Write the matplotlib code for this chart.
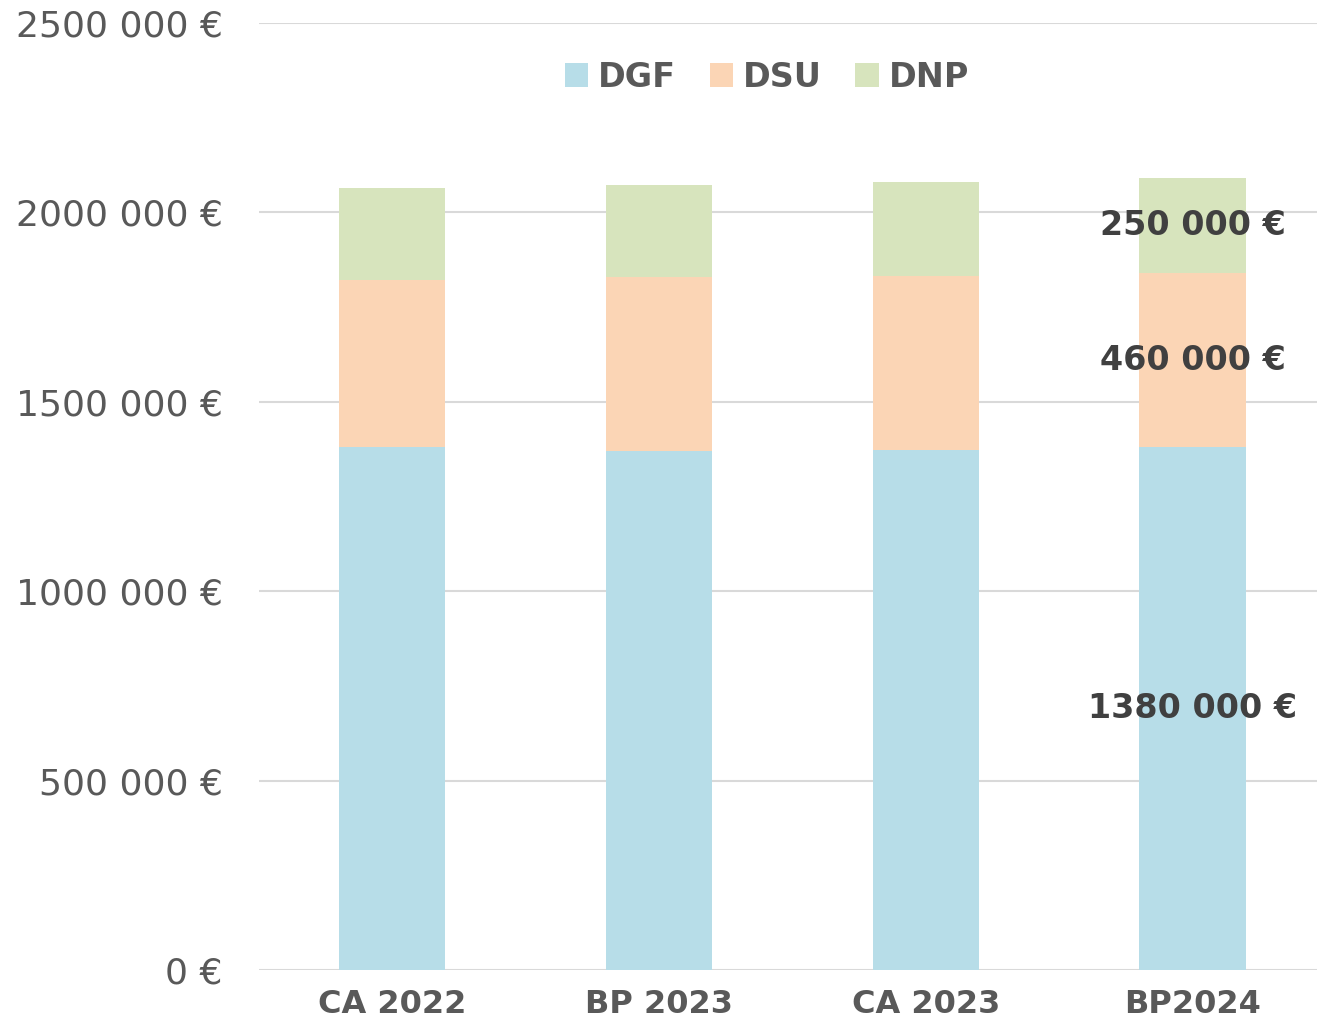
import matplotlib.pyplot as plt
import numpy as np

# data
categories = ['CA 2022', 'BP 2023', 'CA 2023', 'BP2024']
dgf = [1381000, 1370000, 1373000, 1380000]
dsu = [441000, 459000, 459000, 460000]
dnp = [242000, 243000, 248000, 250000]
yticks = [0, 500000, 1000000, 1500000, 2000000, 2500000]

def eur(v):
    v = int(round(v))
    if v >= 1000:
        return '%d %03d €' % (v // 1000, v % 1000)
    return '%d €' % v

fig = plt.figure(figsize=(13.17, 10.29), dpi=100)
ax = fig.add_axes([0.1967, 0.0573, 0.8033, 0.9203])

x = np.arange(len(categories))
w = 0.4
ax.bar(x, dgf, w, color='#B7DDE8', label='DGF', zorder=2)
ax.bar(x, dsu, w, bottom=dgf, color='#FBD5B5', label='DSU', zorder=2)
bottom3 = np.array(dgf) + np.array(dsu)
ax.bar(x, dnp, w, bottom=bottom3, color='#D7E4BD', label='DNP', zorder=2)

# labels only on last bar
i = len(categories) - 1
for vals, bots in [(dgf, [0] * 4), (dsu, dgf), (dnp, bottom3)]:
    ax.text(x[i], bots[i] + vals[i] / 2, eur(vals[i]), ha='center', va='center',
            fontsize=24, fontweight='bold', color='#404040', zorder=3)

ax.set_xlim(-0.498, 3.465)
ax.set_ylim(0, 2500000)
ax.set_yticks(yticks)
ax.set_yticklabels([eur(v) for v in yticks])
ax.set_xticks(x)
ax.set_xticklabels(categories, fontweight='bold')
ax.tick_params(axis='y', length=0, labelsize=26, labelcolor='#595959', pad=26)
ax.tick_params(axis='x', length=0, labelsize=23, labelcolor='#595959', pad=14)
ax.grid(axis='y', color='#D9D9D9', linewidth=1.5, zorder=0)
for s in ax.spines.values():
    s.set_visible(False)

leg = ax.legend(loc='center', bbox_to_anchor=(0.48, 0.943), ncol=3, frameon=False,
                prop={'size': 24, 'weight': 'bold'}, handlelength=0.7, handleheight=0.7,
                handletextpad=0.3, columnspacing=1.0)
for t in leg.get_texts():
    t.set_color('#595959')

fig.savefig('out.png', dpi=100)
